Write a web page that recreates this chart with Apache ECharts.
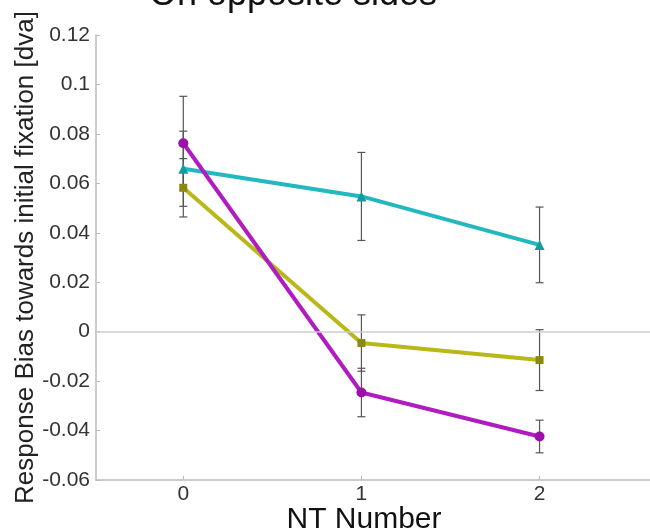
<!DOCTYPE html>
<html>
<head>
<meta charset="utf-8">
<script src="https://cdn.jsdelivr.net/npm/echarts@6/dist/echarts.min.js"></script>
<style>
  html, body { margin: 0; padding: 0; background: #fff; }
  #chart { width: 650px; height: 532px; }
</style>
</head>
<body>
<div id="chart"></div>
<script>
  // NT number on the x axis
  var ntNumbers = [0, 1, 2];
  // mean response bias per group
  var magentaMean = [0.0762, -0.0246, -0.0424];
  var yellowMean = [0.0582, -0.0046, -0.0115];
  var cyanMean = [0.0659, 0.0547, 0.0351];
  // error bar half widths
  var magentaErr = [0.019, 0.0098, 0.0066];
  var yellowErr = [0.0118, 0.0114, 0.0123];
  var cyanErr = [0.0152, 0.0178, 0.0153];
  var yTicks = [-0.06, -0.04, -0.02, 0, 0.02, 0.04, 0.06, 0.08, 0.1, 0.12];

  var FONT = 'Liberation Sans, Arial, sans-serif';

  function pairs(mean) {
    return ntNumbers.map(function (x, i) { return [x, mean[i]]; });
  }
  function errRows(mean, err) {
    return ntNumbers.map(function (x, i) { return [x, mean[i] - err[i], mean[i] + err[i]]; });
  }

  // draws a vertical error bar with small caps
  function renderErr(params, api) {
    var lo = api.coord([api.value(0), api.value(1)]);
    var hi = api.coord([api.value(0), api.value(2)]);
    var w = 4;
    var st = { stroke: '#555', lineWidth: 1.2 };
    return {
      type: 'group',
      children: [
        { type: 'line', shape: { x1: lo[0], y1: lo[1], x2: hi[0], y2: hi[1] }, style: st },
        { type: 'line', shape: { x1: lo[0] - w, y1: lo[1], x2: lo[0] + w, y2: lo[1] }, style: st },
        { type: 'line', shape: { x1: hi[0] - w, y1: hi[1], x2: hi[0] + w, y2: hi[1] }, style: st }
      ]
    };
  }

  function lineSeries(mean, color, markColor, symbol, size) {
    return {
      type: 'line',
      data: pairs(mean),
      symbol: symbol,
      symbolSize: size,
      lineStyle: { color: color, width: 4 },
      itemStyle: { color: markColor },
      z: 3,
      animation: false
    };
  }

  function errSeries(mean, err) {
    return {
      type: 'custom',
      renderItem: renderErr,
      data: errRows(mean, err),
      encode: { x: 0, y: [1, 2] },
      z: 2,
      animation: false
    };
  }

  var chart = echarts.init(document.getElementById('chart'));
  chart.setOption({
    backgroundColor: '#fff',
    textStyle: { fontFamily: FONT },
    graphic: [{
      type: 'text',
      style: { text: 'On opposite sides', x: 293, y: 13, fontSize: 36, fontFamily: FONT, fill: '#111', textAlign: 'center', textVerticalAlign: 'bottom' },
      z: 10
    }],
    grid: { left: 96, right: 0, top: 35, bottom: 52, outerBoundsMode: 'none' },
    xAxis: {
      type: 'value',
      min: -0.49,
      max: 2.62,
      name: 'NT Number',
      nameLocation: 'middle',
      nameGap: 25,
      nameMoveOverlap: false,
      nameTextStyle: { fontSize: 30, color: '#111', fontFamily: FONT, padding: [0, 18, 0, 0] },
      axisLine: { onZero: false, lineStyle: { color: '#bbb', width: 1.5 } },
      axisTick: { inside: true, length: 4, customValues: ntNumbers, lineStyle: { color: '#bbb' } },
      axisLabel: {
        fontSize: 21, color: '#333', margin: 4,
        customValues: ntNumbers,
        formatter: function (v) { return String(v); }
      },
      splitLine: { show: false }
    },
    yAxis: {
      type: 'value',
      min: -0.06,
      max: 0.12,
      interval: 0.02,
      name: 'Response Bias towards initial fixation [dva]',
      nameLocation: 'middle',
      nameGap: 57,
      nameMoveOverlap: false,
      nameTextStyle: { fontSize: 26, color: '#222', fontFamily: FONT },
      axisLine: { show: true, onZero: false, lineStyle: { color: '#bbb', width: 1.5 } },
      axisTick: { show: true, inside: true, length: 4, lineStyle: { color: '#bbb' } },
      axisLabel: {
        fontSize: 21, color: '#333', margin: 6,
        formatter: function (v) {
          var r = Math.round(v * 100) / 100;
          return yTicks.indexOf(r) >= 0 ? String(r) : '';
        }
      },
      splitLine: { show: false }
    },
    series: [
      {
        type: 'line',
        data: [],
        markLine: {
          silent: true,
          symbol: 'none',
          label: { show: false },
          lineStyle: { color: '#ccc', type: 'solid', width: 1.5 },
          data: [{ yAxis: 0 }]
        },
        animation: false
      },
      errSeries(magentaMean, magentaErr),
      errSeries(yellowMean, yellowErr),
      errSeries(cyanMean, cyanErr),
      lineSeries(yellowMean, '#b8b818', '#8a8a10', 'rect', 8),
      lineSeries(cyanMean, '#22b8c0', '#159aa0', 'triangle', 10),
      lineSeries(magentaMean, '#b01cc0', '#9a10a8', 'circle', 10)
    ]
  });
</script>
</body>
</html>
